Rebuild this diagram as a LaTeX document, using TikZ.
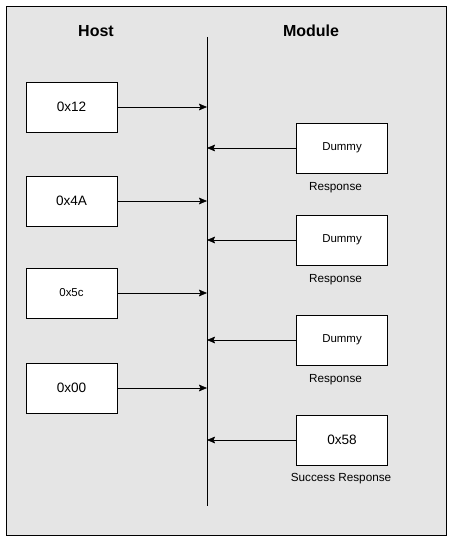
\documentclass[tikz,border=0pt]{standalone}
\usepackage{fontspec}
\setmainfont{Liberation Sans}
\usetikzlibrary{arrows.meta}
\begin{document}
\begin{tikzpicture}[x=0.75pt,y=-0.75pt,
	box/.style={draw,fill=white,minimum width=68pt,minimum height=37.5pt,inner sep=0pt,font=\fontsize{10.2}{11}\selectfont},
	resp/.style={box,font=\fontsize{8.6}{9}\selectfont},
	capt/.style={inner sep=0pt,font=\fontsize{8.8}{10}\selectfont},
	head/.style={inner sep=0pt,font=\fontsize{12}{14}\selectfont\bfseries},
	sig/.style={-{Stealth[length=6pt,width=5pt,inset=1pt]},thin}]
	\useasboundingbox (0,0) rectangle (452,541);
	\filldraw[fill=black!10] (6,6) rectangle (446,535);
	\node[head] (host) at (96,31) {Host};
	\node[head] (module) at (311,31) {Module};
	\coordinate (top) at (207,37);
	\coordinate (bot) at (207,506);
	\draw (top) -- (bot);
	% host side
	\node[box] (h1) at (71.5,107) {0x12};
	\node[box] (h2) at (71.5,201) {0x4A};
	\node[box,font=\fontsize{8.6}{10}\selectfont] (h3) at (71.5,293) {0x5c};
	\node[box] (h4) at (71.5,388) {0x00};
	% module side
	\node[resp] (m1) at (342,148) {Dummy};
	\node[resp] (m2) at (342,240) {Dummy};
	\node[resp] (m3) at (342,340) {Dummy};
	\node[box] (m4) at (342,440) {0x58};
	\node[capt] (c1) at (335.5,188) {Response};
	\node[capt] (c2) at (335.5,280) {Response};
	\node[capt] (c3) at (335.5,380) {Response};
	\node[capt] (c4) at (341,479) {Success Response};
	\foreach \n in {1,...,4}
	{
		\draw[sig] (h\n.east) -- (h\n.east -| top);
		\draw[sig] (m\n.west) -- (m\n.west -| top);
	}
\end{tikzpicture}
\end{document}
